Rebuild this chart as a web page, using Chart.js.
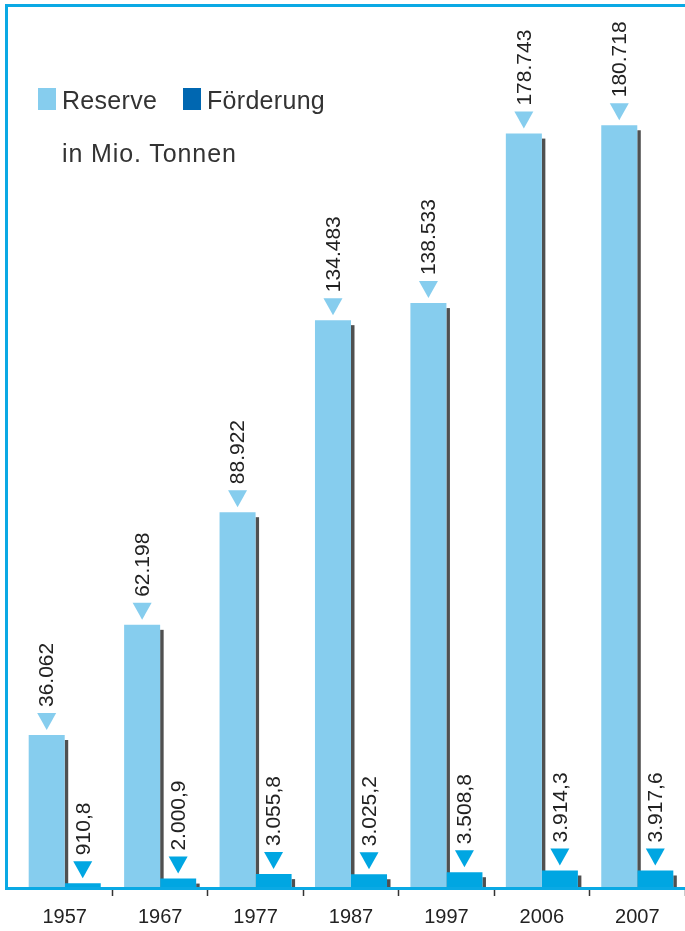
<!DOCTYPE html>
<html>
<head>
<meta charset="utf-8">
<script src="https://cdn.jsdelivr.net/npm/chart.js@4/dist/chart.umd.min.js"></script>
<style>
    html, body { margin: 0; padding: 0; background: #fff; overflow: hidden; }
    #wrap { position: relative; width: 685px; height: 931px; }
    #chart { position: absolute; left: 0; top: 0; }
    .legend { position: absolute; font-family: "Liberation Sans", Arial, sans-serif; font-size: 25px; color: #333; letter-spacing: 0.3px; line-height: 1; }
    .box { position: absolute; width: 18px; height: 22px; }
</style>
</head>
<body>
<div id="wrap">
    <canvas id="chart" width="685" height="931"></canvas>
    <div class="box" style="left:38px; top:88px; background:#86cdee;"></div>
    <div class="legend" style="left:62px; top:88px;">Reserve</div>
    <div class="box" style="left:183px; top:88px; background:#0067b1;"></div>
    <div class="legend" style="left:207px; top:88px;">Förderung</div>
    <div class="legend" style="left:62px; top:141px; letter-spacing:0.9px;">in Mio. Tonnen</div>
</div>
<script>
// Jahre und Werte (Reserve / Förderung in Mio. Tonnen)
const years = ['1957', '1967', '1977', '1987', '1997', '2006', '2007'];
const reserve = [36062, 62198, 88922, 134483, 138533, 178743, 180718];
const foerderung = [910.8, 2000.9, 3055.8, 3025.2, 3508.8, 3914.3, 3917.6];

const reserveColor = '#86cdee';
const foerderColor = '#00a6e2';
const frameColor = '#0aa9e4';

function formatDE(value, digits) {
    return value.toLocaleString('de-DE', { minimumFractionDigits: digits, maximumFractionDigits: digits });
}

// Schatten rechts neben den Balken
const shadowPlugin = {
    id: 'barShadow',
    beforeDatasetsDraw(chart) {
        const ctx = chart.ctx;
        ctx.save();
        ctx.fillStyle = '#505050';
        chart.data.datasets.forEach((ds, i) => {
            chart.getDatasetMeta(i).data.forEach(bar => {
                const h = bar.base - bar.y - 5;
                if (h > 0) ctx.fillRect(bar.x + bar.width / 2, bar.y + 5, 3.5, h);
            });
        });
        ctx.restore();
    }
};

// Dreieck + senkrechte Zahl über jedem Balken
const valueLabelPlugin = {
    id: 'valueLabels',
    afterDatasetsDraw(chart) {
        const ctx = chart.ctx;
        ctx.save();
        chart.data.datasets.forEach((ds, i) => {
            const digits = i === 0 ? 0 : 1;
            chart.getDatasetMeta(i).data.forEach((bar, j) => {
                const x = bar.x;
                const top = bar.y;
                ctx.fillStyle = ds.backgroundColor;
                ctx.beginPath();
                ctx.moveTo(x - 9.5, top - 22);
                ctx.lineTo(x + 9.5, top - 22);
                ctx.lineTo(x, top - 5);
                ctx.closePath();
                ctx.fill();

                ctx.save();
                ctx.translate(x, top - 28);
                ctx.rotate(-Math.PI / 2);
                ctx.fillStyle = '#222';
                ctx.font = '21px "Liberation Sans", Arial, sans-serif';
                ctx.textAlign = 'left';
                ctx.textBaseline = 'middle';
                ctx.fillText(formatDE(ds.data[j], digits), 0, 1);
                ctx.restore();
            });
        });
        ctx.restore();
    }
};

// Rahmen oben, links und Grundlinie
const framePlugin = {
    id: 'frame',
    afterDraw(chart) {
        const ctx = chart.ctx;
        const area = chart.chartArea;
        ctx.save();
        ctx.fillStyle = frameColor;
        ctx.fillRect(5, 4, chart.width - 5, 3);
        ctx.fillRect(5, 4, 3, area.bottom + 3 - 4);
        ctx.fillRect(5, area.bottom, chart.width - 5, 3);
        ctx.restore();
    }
};

new Chart(document.getElementById('chart'), {
    type: 'bar',
    data: {
        labels: years,
        datasets: [
            { label: 'Reserve', data: reserve, backgroundColor: reserveColor },
            { label: 'Förderung', data: foerderung, backgroundColor: foerderColor }
        ]
    },
    options: {
        responsive: false,
        animation: false,
        layout: { padding: { top: 44, left: 17, right: 0, bottom: 0 } },
        datasets: {
            bar: { barPercentage: 1, categoryPercentage: 0.755, borderWidth: 0 }
        },
        plugins: {
            legend: { display: false },
            tooltip: { enabled: false }
        },
        scales: {
            x: {
                afterFit: (scale) => { scale.height = 44; },
                border: { display: false },
                grid: {
                    offset: true,
                    drawOnChartArea: false,
                    drawTicks: true,
                    tickLength: 9,
                    tickWidth: 1.5,
                    tickColor: (c) => (c.index === 0 || c.index === years.length) ? 'rgba(0,0,0,0)' : '#333'
                },
                ticks: {
                    padding: 9,
                    color: '#222',
                    font: { family: '"Liberation Sans", Arial, sans-serif', size: 20 }
                }
            },
            y: {
                display: false,
                min: 0,
                max: 200000
            }
        }
    },
    plugins: [shadowPlugin, valueLabelPlugin, framePlugin]
});
</script>
</body>
</html>
